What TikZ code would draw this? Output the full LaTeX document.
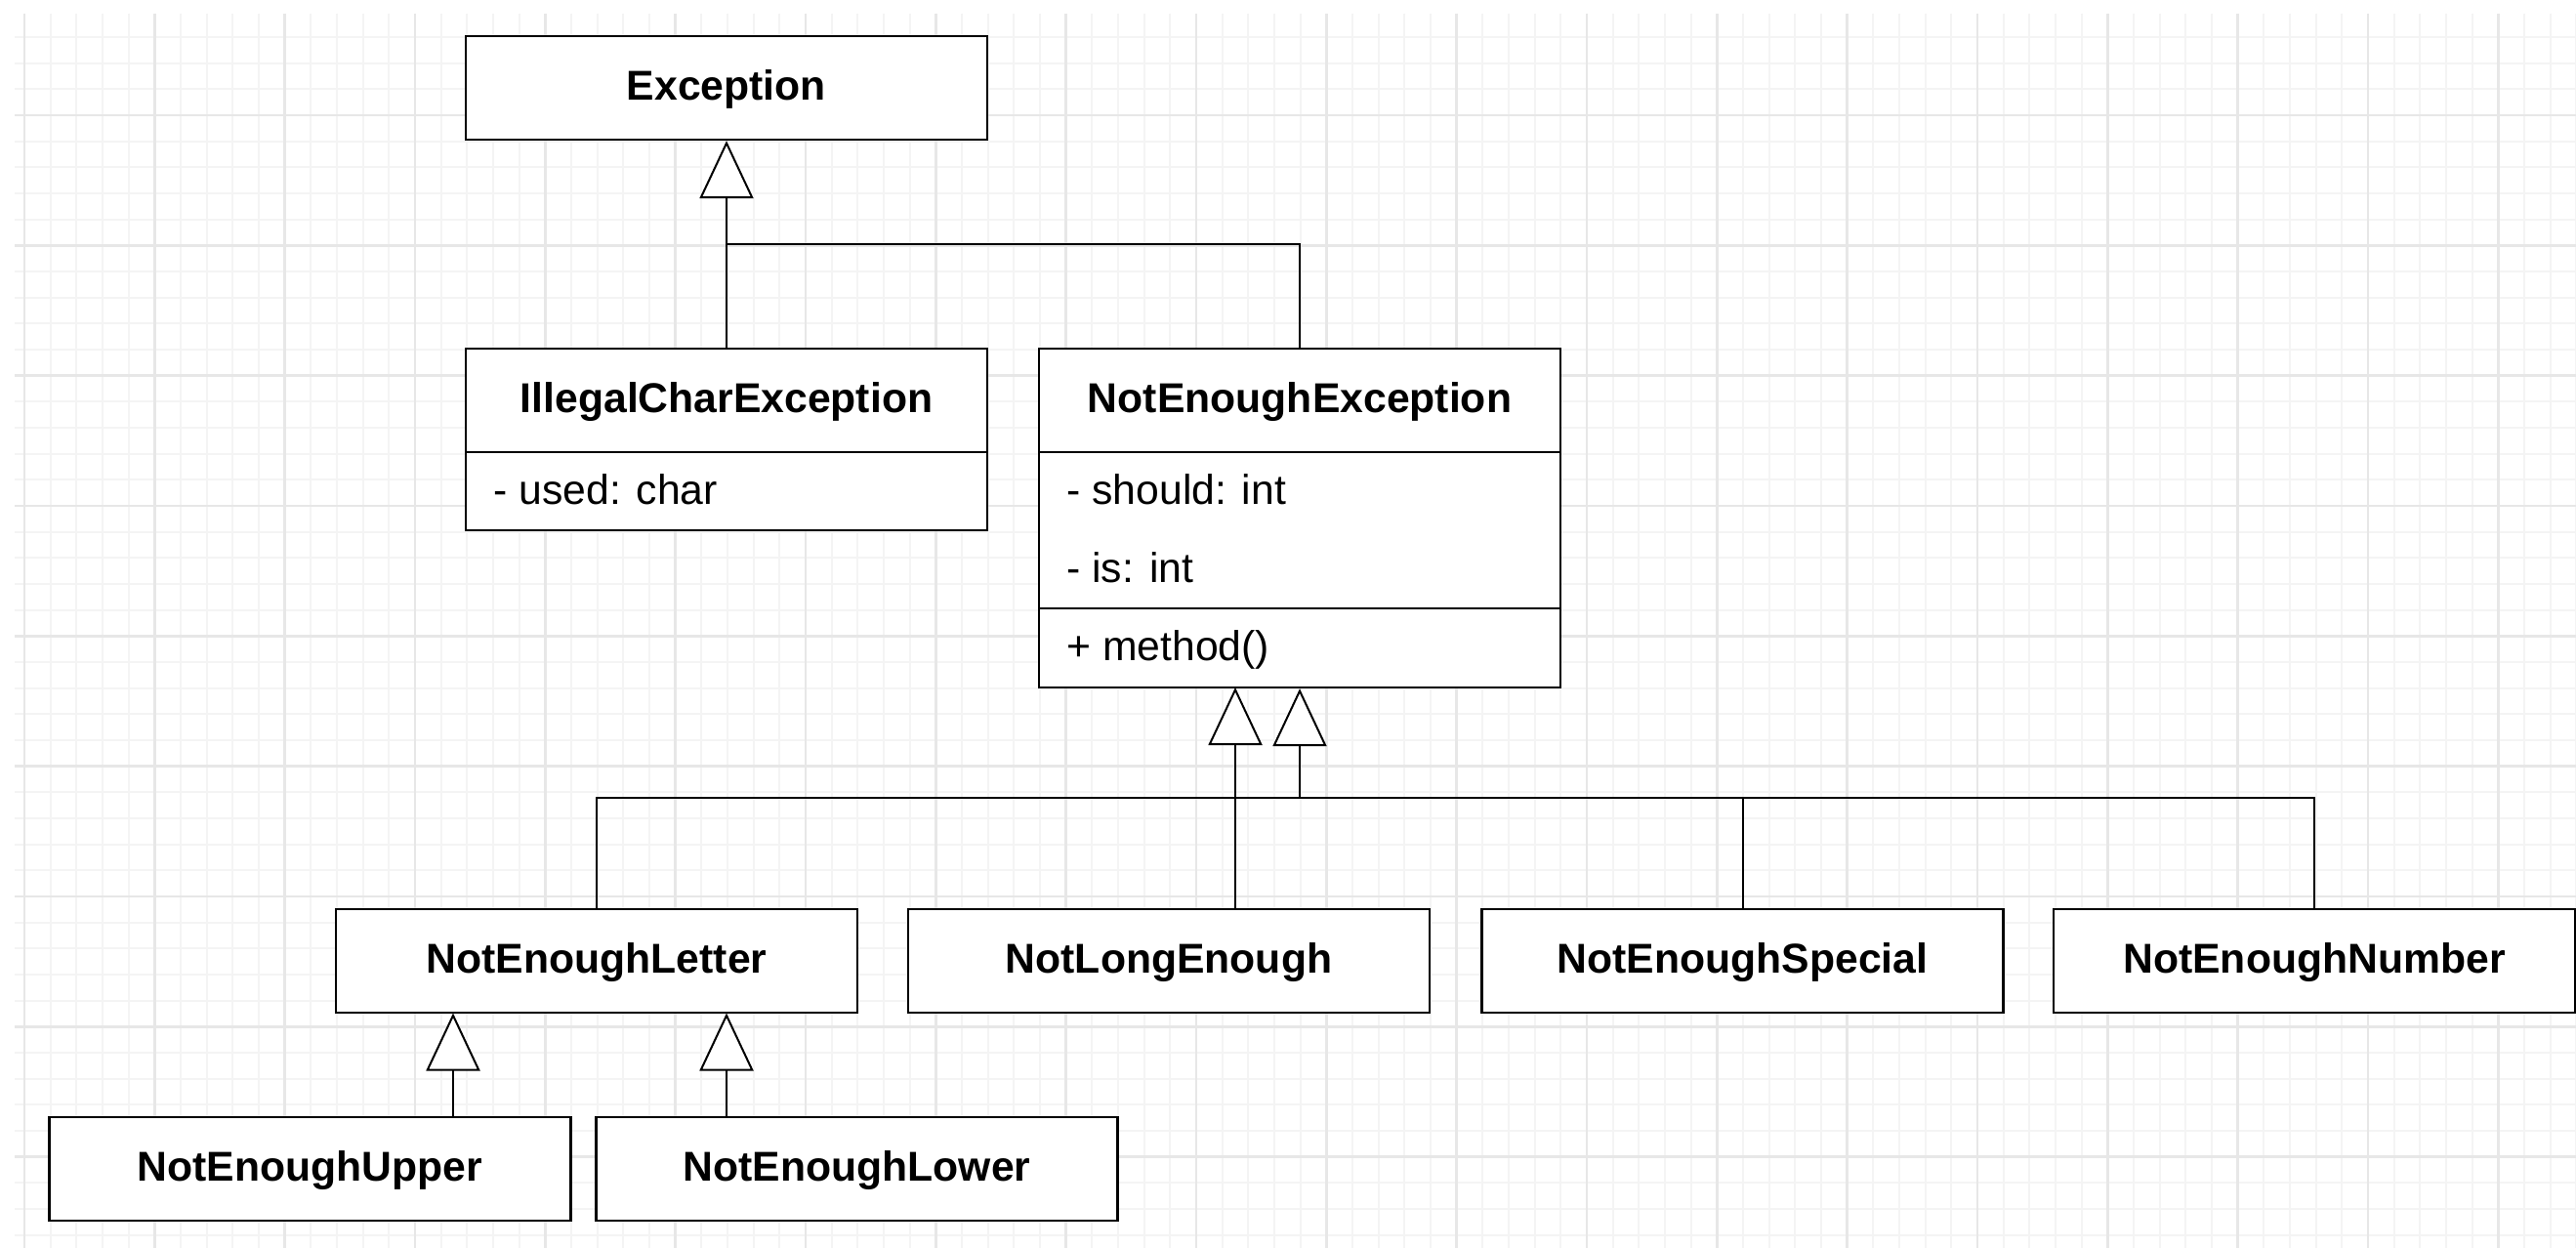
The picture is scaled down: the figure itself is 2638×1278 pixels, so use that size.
\documentclass[tikz,border=0pt]{standalone}
\usepackage{fontspec}
\setmainfont{Liberation Sans}
\usetikzlibrary{arrows.meta}
\definecolor{gridminor}{RGB}{244,244,244}
\definecolor{gridmajor}{RGB}{231,231,231}
\tikzset{
  box/.style={draw, line width=1.2pt, fill=white, minimum width=267pt, minimum height=53pt,
    inner sep=0pt, font=\fontsize{21.35}{25}\selectfont\bfseries, text height=15.3pt, text depth=2.8pt},
  outer/.style={draw, line width=1.2pt, fill=white, minimum width=267pt, inner sep=0pt},
  title/.style={inner sep=0pt, font=\fontsize{21.35}{25}\selectfont\bfseries, text height=15.3pt, text depth=2.8pt},
  attr/.style={inner sep=0pt, anchor=west, font=\fontsize{21.35}{25}\selectfont, text height=15.3pt, text depth=1.5pt},
  divider/.style={line width=1.2pt},
  conn/.style={line width=1pt},
  inh/.style={conn, -{Triangle[open, fill=white, length=29.5pt, width=27.5pt]}},
  minorline/.style={draw=gridminor, line width=1.1pt},
  majorline/.style={draw=gridmajor, line width=1.4pt}
}
\begin{document}
\begin{tikzpicture}[x=0.5pt,y=-0.5pt]
\useasboundingbox (0,0) rectangle (2638,1278);
\fill[white] (0,0) rectangle (2638,1278);
% grid
\begin{scope}
\clip (15,14) rectangle (2638,1278);
\foreach \i in {0,...,98} \draw[minorline] ({25+26.6667*\i},14) -- ({25+26.6667*\i},1278);
\foreach \j in {1,...,47} \draw[minorline] (15,{11.3333+26.6667*\j}) -- (2638,{11.3333+26.6667*\j});
\foreach \i in {0,...,19} \draw[majorline] ({25+133.3333*\i},14) -- ({25+133.3333*\i},1278);
\foreach \j in {0,...,8} \draw[majorline] (15,{118+133.3333*\j}) -- (2638,{118+133.3333*\j});
\end{scope}

% boxes
\node[box] (exc) at (744,90) {Exception};

\node[outer, minimum height=93pt] (ill) at (744,450) {};
\node[title] (illT) at (744,410) {IllegalCharException};
\draw[divider] (477,463) -- (1011,463);
\node[attr] (illA) at (505,503) {- used: char};

\node[outer, minimum height=173.5pt] (nee) at (1331,530.5) {};
\node[title] (neeT) at (1331,410) {NotEnoughException};
\draw[divider] (1064,463) -- (1598,463);
\draw[divider] (1064,623) -- (1598,623);
\node[attr] (neeA1) at (1092,503) {- should: int};
\node[attr] (neeA2) at (1092,583) {- is: int};
\node[attr] (neeM) at (1092,663) {+ method()};

\node[box] (letter) at (611,984) {NotEnoughLetter};
\node[box] (nle) at (1197,984) {NotLongEnough};
\node[box] (special) at (1784.5,984) {NotEnoughSpecial};
\node[box] (number) at (2370,984) {NotEnoughNumber};
\node[box] (upper) at (317.5,1197) {NotEnoughUpper};
\node[box] (lower) at (877.5,1197) {NotEnoughLower};

% connectors
\draw[inh] (ill.north) -- (exc.south);
\coordinate (j1) at (744,250);
\draw[conn] (nee.north) |- (j1);

\coordinate (j2) at (1331,817);
\draw[inh] (letter.north) |- (j2) -- (nee.south);
\draw[conn] (special.north) |- (j2);
\draw[conn] (number.north) |- (j2);

\coordinate (k1) at (1265,704);
\draw[inh] (nle.north -| k1) -- (k1);

\coordinate (k2) at (464,1037.5);
\draw[inh] (upper.north -| k2) -- (k2);
\coordinate (k3) at (744,1037.5);
\draw[inh] (lower.north -| k3) -- (k3);
\end{tikzpicture}
\end{document}
